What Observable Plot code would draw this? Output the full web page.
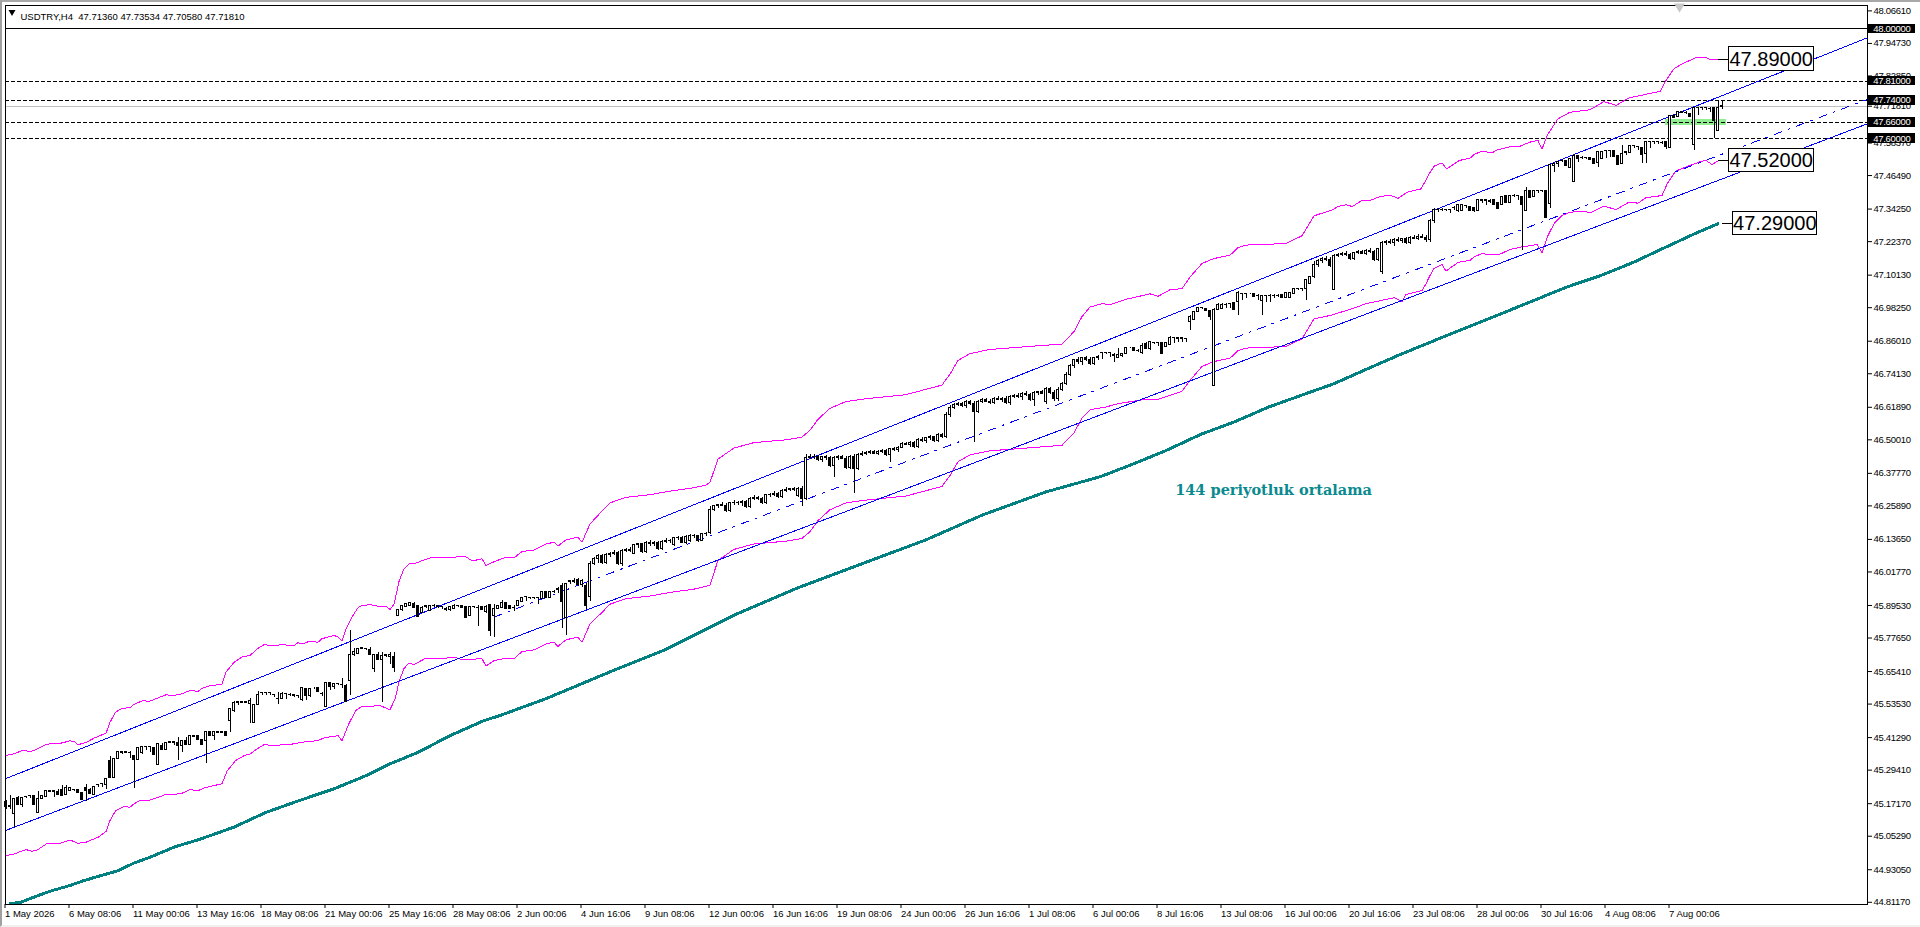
<!DOCTYPE html>
<html><head><meta charset="utf-8">
<script src="https://cdn.jsdelivr.net/npm/d3@7"></script>
<script src="https://cdn.jsdelivr.net/npm/@observablehq/plot@0.6"></script>
<style>
html,body{margin:0;padding:0;background:#fff;overflow:hidden}
svg{display:block}
#edge{position:fixed;left:0;top:0;width:1920px;height:927px;box-sizing:border-box;border-left:2px solid #a0a0a0;border-top:2px solid #a8a8a8;border-bottom:2px solid #f0f0f0;pointer-events:none}
[aria-label="y-axis tick label"]{letter-spacing:-.3px}
.tag text{letter-spacing:-.3px}
</style></head><body><div id="chart"></div><div id="edge"></div>
<script>
// Prices are in thousandths of a lira (45177 = 45.177)
const opens=[
45177,45162,45134,45193,45168,45197,45199,45198,45137,45189,
45195,45217,45217,45216,45222,45204,45219,45222,45222,45210,
45229,45223,45204,45241,45244,45241,45329,45266,45334,45359,
45359,45356,45344,45331,45357,45378,45378,45374,45313,45384,
45368,45396,45396,45392,45384,45400,45387,45417,45417,45404,
45400,45432,45417,45432,45432,45432,45473,45509,45542,45542,
45542,45536,45466,45533,45575,45575,45575,45570,45554,45554,
45573,45570,45567,45564,45551,45591,45563,45593,45593,45573,
45524,45612,45597,45609,45606,45603,45619,45713,45719,45739,
45737,45731,45662,45715,45698,45713,45707,45709,45856,45879,
45889,45893,45901,45892,45867,45892,45875,45895,45892,45889,
45883,45877,45883,45893,45895,45889,45856,45889,45887,45889,
45871,45898,45856,45883,45887,45905,45895,45887,45895,45907,
45926,45923,45923,45923,45920,45946,45923,45946,45950,45968,
45850,45980,45985,45990,45970,45968,45926,46047,46065,46075,
46050,46080,46085,46088,46045,46095,46098,46085,46115,46118,
46090,46125,46120,46122,46100,46128,46130,46115,46140,46142,
46125,46130,46150,46148,46130,46155,46160,46245,46258,46262,
46260,46240,46268,46270,46268,46272,46255,46285,46288,46285,
46270,46298,46300,46302,46290,46315,46318,46320,46295,46320,
46285,46435,46438,46436,46425,46436,46432,46405,46432,46436,
46430,46398,46438,46395,46445,46450,46452,46455,46450,46456,
46460,46445,46466,46462,46472,46485,46482,46490,46475,46500,
46496,46505,46510,46495,46518,46510,46590,46618,46628,46630,
46624,46638,46630,46600,46640,46644,46640,46636,46650,46646,
46650,46635,46658,46660,46656,46668,46664,46645,46670,46674,
46640,46685,46670,46650,46682,46705,46738,46768,46790,46785,
46798,46792,46778,46798,46817,46817,46817,46808,46800,46805,
46812,46836,46835,46824,46817,46851,46830,46854,46854,46853,
46839,46848,46873,46871,46871,46869,46930,46938,46966,46981,
46979,46972,46696,46975,46979,46994,46997,46999,47003,47033,
47033,47033,47033,47025,47007,47025,47027,47027,47027,47030,
47019,47019,47033,47052,47052,47052,47070,47094,47140,47152,
47160,47155,47048,47172,47176,47180,47175,47160,47182,47185,
47180,47190,47186,47155,47112,47218,47222,47218,47230,47226,
47232,47220,47238,47235,47242,47238,47228,47298,47340,47340,
47340,47340,47348,47337,47337,47353,47349,47347,47337,47374,
47374,47371,47374,47364,47356,47390,47365,47392,47390,47386,
47337,47408,47386,47408,47410,47410,47362,47499,47508,47518,
47518,47492,47441,47536,47530,47530,47530,47526,47510,47526,
47554,47554,47554,47536,47508,47550,47548,47572,47569,47565,
47542,47587,47587,47587,47584,47587,47566,47684,47678,47696,
47694,47690,47577,47712,47712,47712,47709,47712,47627,47714];
const highs=[
45183,45201,45189,45198,45195,45199,45200,45199,45217,45200,
45219,45219,45218,45222,45238,45238,45232,45224,45224,45212,
45241,45226,45236,45243,45246,45262,45344,45335,45362,45362,
45362,45363,45347,45375,45380,45380,45380,45376,45392,45390,
45395,45398,45398,45414,45402,45412,45417,45419,45419,45406,
45432,45434,45432,45434,45434,45434,45518,45545,45544,45544,
45544,45554,45533,45581,45577,45577,45577,45572,45579,45579,
45575,45574,45570,45568,45595,45593,45591,45595,45595,45577,
45612,45614,45609,45611,45628,45605,45804,45737,45737,45741,
45739,45741,45716,45725,45725,45717,45725,45725,45881,45897,
45901,45907,45905,45894,45890,45897,45897,45899,45896,45893,
45888,45892,45899,45897,45897,45891,45892,45891,45895,45891,
45895,45900,45899,45894,45913,45907,45897,45895,45910,45923,
45928,45926,45926,45926,45944,45948,45946,45950,45960,45975,
45975,45988,45992,45994,45990,45975,46055,46072,46080,46082,
46085,46090,46095,46092,46100,46105,46108,46118,46122,46122,
46130,46132,46128,46128,46132,46140,46138,46145,46148,46146,
46150,46155,46155,46152,46158,46162,46255,46262,46265,46270,
46268,46272,46278,46275,46278,46278,46290,46295,46292,46290,
46302,46305,46310,46308,46320,46325,46322,46325,46325,46328,
46445,46445,46445,46442,46440,46442,46438,46438,46442,46442,
46440,46442,46445,46450,46458,46458,46460,46460,46462,46465,
46465,46470,46472,46476,46490,46492,46495,46495,46505,46508,
46510,46515,46514,46522,46525,46600,46625,46632,46635,46638,
46642,46645,46640,46645,46650,46650,46648,46655,46658,46655,
46658,46662,46665,46668,46672,46675,46670,46675,46678,46680,
46690,46690,46680,46690,46710,46745,46775,46795,46800,46802,
46805,46800,46802,46808,46820,46820,46820,46815,46833,46816,
46838,46838,46837,46830,46851,46855,46860,46857,46857,46855,
46856,46878,46875,46873,46873,46871,46954,46968,46984,46984,
46981,46974,46978,46997,46997,46997,46999,47001,47040,47036,
47036,47035,47035,47030,47027,47027,47029,47031,47031,47032,
47038,47038,47054,47054,47054,47084,47096,47150,47160,47165,
47168,47165,47175,47180,47185,47186,47182,47185,47190,47192,
47195,47198,47192,47200,47225,47228,47230,47235,47238,47236,
47238,47242,47245,47248,47250,47246,47305,47345,47343,47343,
47342,47342,47352,47358,47358,47356,47351,47349,47374,47376,
47376,47376,47376,47366,47388,47392,47392,47394,47392,47388,
47420,47410,47410,47410,47412,47412,47504,47510,47516,47522,
47520,47526,47540,47538,47534,47532,47532,47528,47552,47552,
47556,47556,47556,47538,47575,47552,47574,47574,47571,47567,
47589,47589,47591,47591,47588,47589,47684,47686,47698,47700,
47698,47692,47714,47714,47714,47714,47713,47714,47739,47735];
const lows=[
45152,45152,45083,45165,45159,45190,45192,45166,45137,45187,
45193,45212,45195,45200,45198,45200,45215,45216,45208,45185,
45179,45205,45202,45229,45229,45225,45266,45266,45332,45353,
45355,45335,45228,45331,45353,45365,45359,45347,45313,45368,
45366,45390,45384,45329,45359,45387,45385,45412,45404,45387,
45317,45417,45402,45428,45428,45417,45432,45505,45530,45538,
45538,45466,45466,45533,45567,45567,45568,45558,45534,45552,
45552,45563,45560,45554,45545,45548,45561,45590,45579,45563,
45524,45585,45587,45603,45591,45542,45567,45710,45716,45733,
45731,45713,45652,45698,45542,45707,45680,45652,45854,45875,
45887,45891,45885,45853,45865,45885,45873,45888,45886,45882,
45875,45875,45880,45887,45885,45850,45854,45883,45819,45877,
45867,45782,45780,45881,45885,45883,45881,45875,45893,45905,
45911,45916,45916,45899,45918,45923,45921,45940,45940,45810,
45786,45972,45975,45965,45960,45879,45911,46040,46050,46045,
46045,46070,46078,46040,46038,46088,46090,46080,46105,46085,
46085,46112,46110,46095,46095,46120,46122,46110,46132,46120,
46118,46125,46140,46125,46128,46148,46155,46240,46250,46255,
46235,46235,46260,46262,46255,46250,46250,46278,46280,46265,
46265,46290,46292,46285,46285,46308,46310,46310,46290,46258,
46280,46428,46430,46420,46418,46425,46400,46362,46425,46428,
46392,46390,46305,46388,46438,46442,46445,46445,46442,46450,
46440,46418,46458,46455,46468,46478,46472,46470,46470,46492,
46488,46498,46490,46490,46505,46505,46580,46610,46620,46618,
46615,46625,46490,46595,46632,46636,46630,46630,46642,46635,
46630,46625,46650,46652,46645,46660,46640,46620,46662,46665,
46630,46665,46640,46640,46675,46698,46730,46760,46775,46770,
46785,46770,46770,46790,46792,46812,46800,46784,46798,46802,
46810,46832,46823,46818,46812,46833,46828,46848,46839,46812,
46837,46846,46851,46857,46857,46854,46899,46936,46964,46975,
46970,46936,46696,46973,46977,46979,46979,46975,46954,47009,
47015,47030,47021,47009,46954,47003,47003,47015,47019,47019,
47015,47017,47031,47046,47043,47009,47068,47090,47130,47145,
47150,47130,47048,47165,47168,47170,47155,47155,47175,47175,
47172,47180,47150,47150,47105,47210,47212,47205,47220,47218,
47215,47215,47230,47228,47235,47222,47222,47290,47330,47332,
47332,47328,47338,47330,47332,47345,47337,47330,47332,47362,
47356,47362,47356,47343,47354,47365,47363,47386,47374,47191,
47335,47384,47384,47400,47402,47311,47343,47477,47493,47512,
47498,47490,47441,47511,47522,47522,47520,47508,47496,47524,
47526,47530,47532,47502,47506,47538,47546,47565,47556,47508,
47508,47563,47580,47580,47577,47559,47566,47676,47676,47690,
47688,47678,47556,47684,47704,47704,47696,47599,47625,47706];
const closes=[
45159,45161,45189,45168,45194,45196,45198,45166,45188,45198,
45217,45216,45216,45204,45201,45228,45228,45221,45210,45185,
45217,45207,45234,45240,45243,45262,45266,45335,45362,45358,
45358,45355,45331,45375,45378,45377,45377,45350,45390,45368,
45393,45395,45395,45384,45402,45387,45417,45416,45404,45387,
45432,45417,45432,45431,45431,45417,45518,45538,45541,45541,
45541,45548,45533,45569,45574,45574,45574,45569,45553,45573,
45572,45569,45566,45563,45595,45564,45591,45593,45579,45572,
45612,45597,45609,45608,45605,45542,45715,45725,45735,45738,
45736,45713,45716,45698,45710,45712,45716,45668,45879,45895,
45899,45905,45887,45853,45887,45891,45895,45894,45891,45888,
45877,45889,45895,45892,45887,45850,45889,45888,45886,45877,
45889,45802,45883,45892,45905,45883,45881,45886,45910,45923,
45925,45922,45922,45922,45944,45923,45946,45945,45955,45907,
45972,45985,45982,45970,45985,45892,46047,46065,46075,46050,
46080,46085,46088,46045,46095,46098,46095,46115,46118,46090,
46125,46120,46122,46100,46128,46130,46132,46140,46142,46125,
46145,46150,46148,46130,46155,46158,46245,46258,46262,46260,
46240,46268,46270,46268,46272,46255,46285,46288,46285,46270,
46298,46300,46302,46290,46315,46318,46320,46318,46320,46285,
46435,46438,46436,46425,46436,46432,46405,46432,46436,46430,
46398,46438,46395,46445,46450,46452,46455,46450,46456,46460,
46445,46466,46462,46472,46485,46482,46490,46475,46500,46496,
46505,46510,46495,46518,46512,46590,46618,46628,46630,46624,
46638,46630,46600,46640,46644,46640,46636,46650,46646,46650,
46635,46658,46660,46656,46668,46664,46645,46670,46674,46668,
46685,46670,46650,46682,46705,46738,46768,46790,46785,46798,
46792,46778,46798,46802,46816,46816,46816,46807,46808,46814,
46835,46836,46823,46823,46841,46833,46857,46853,46853,46812,
46853,46873,46872,46870,46870,46868,46948,46966,46982,46980,
46970,46948,46975,46991,46994,46993,46996,46975,47036,47032,
47032,47033,47021,47024,47025,47024,47026,47026,47026,47019,
47036,47036,47052,47051,47051,47082,47094,47140,47152,47160,
47155,47135,47172,47176,47180,47175,47160,47182,47185,47180,
47190,47186,47155,47195,47218,47222,47218,47230,47226,47232,
47220,47238,47235,47242,47238,47228,47298,47338,47339,47339,
47339,47339,47347,47356,47356,47352,47337,47337,47374,47373,
47373,47370,47356,47343,47386,47365,47390,47391,47389,47356,
47408,47384,47408,47407,47409,47311,47502,47508,47514,47517,
47498,47524,47538,47526,47529,47529,47520,47508,47550,47550,
47553,47553,47532,47502,47544,47549,47572,47571,47568,47541,
47587,47586,47586,47586,47583,47569,47681,47676,47696,47695,
47693,47678,47712,47711,47711,47711,47708,47664,47712,47718];

const upperBars=[0,2,4.5,6,7,10,11,13,16,17,18,20,22,25,26,27.4,29,31,32,34,36,38,40,42,44,46,48,49,51,54,55,57,59,61,63,64.5,67,69,72,73,74,76,78,79,82,83,84,85,86,87,88,89,91,93,95,96,97,97.4,98.3,99.5,100.7,102,103.7,105.4,107,110.3,112.9,115,116.4,118,119,120,122,124.5,127,129,132,135,137,138,140,143,144,146,149,151,155,161,167,172,175,176,178,182,187,195,199,201,203,206,210,215,225,234,236,238,241,246,255,264,267,269,271,274,276,280,286,288,291,294,296,299,302,306,308,310,317,320,324,327,331.7,333,335,336.6,339,341.6,343,345.8,348,350.3,353.7,354.7,355.8,357,359,360.2,363.3,366,367,369,371.6,372.8,377,378,381,383,384,385.5,388,391,396,399.5,402.5,405.8,408.6,413.6,415,417,418.7,422.4,425,426.3,428];
const upperVals=[45348,45354,45368,45361,45366,45388,45390,45390,45401,45399,45387,45395,45411,45429,45469,45506,45520,45522,45534,45547,45546,45558,45569,45567,45573,45585,45582,45593,45603,45607,45652,45688,45707,45713,45739,45752,45749,45752,45749,45760,45755,45765,45761,45774,45786,45780,45765,45810,45840,45865,45887,45895,45898,45893,45893,45881,45900,45926,45986,46029,46047,46047,46057,46066,46072,46069,46073,46073,46059,46062,46066,46041,46055,46069,46069,46092,46098,46120,46126,46112,46135,46145,46126,46193,46240,46270,46290,46300,46315,46325,46335,46345,46430,46470,46490,46500,46510,46535,46575,46615,46640,46650,46665,46700,46740,46790,46815,46830,46840,46850,46895,46950,46985,46997,46994,47013,47033,47024,47048,47052,47094,47144,47162,47174,47202,47211,47215,47217,47245,47318,47340,47352,47358,47352,47374,47376,47386,47394,47382,47404,47416,47441,47471,47499,47511,47489,47520,47528,47542,47554,47548,47559,47573,47569,47587,47593,47562,47617,47672,47696,47705,47735,47721,47749,47757,47773,47812,47855,47870,47895,47895,47887,47890];

const lowerBars=[0,2,5,6.6,8,10.3,13.7,16,18,20,23,25,26,27.4,29.5,31,32,33.7,36,38.7,40,42,44,46,48,49.5,52,54,55.3,57.4,59.5,61,63,64.5,67,72,74,78,79.5,83,84,85.7,87.4,89,93.7,96,97.4,98.3,99.5,100.7,102,105,110,112,114,119,120,122,125,127,129,132,135,137,138,140,143,144,146,149,151,155,161,167,172,175,176,178,182,187,195,199,201,203,206,210,215,225,234,236,238,241,246,255,264,267,269,271,275,278,284,288,294,296,299,302,306,308,310,317,320,324,327,331,336,340,347,349,350,354,355,356,357,359,360,363,366,367,369,371.6,373.7,375.8,378.7,382.8,384,385.3,387,389,391,394.5,396,399.5,402.5,405.8,408,410,414,415.3,417.4,421,423.7,425,426.5,428];
const lowerVals=[44982,44988,45004,44998,45004,45027,45028,45039,45027,45031,45049,45070,45110,45146,45161,45159,45171,45185,45185,45198,45207,45205,45210,45223,45219,45229,45238,45244,45292,45329,45347,45353,45374,45387,45384,45390,45396,45402,45412,45420,45402,45463,45511,45527,45529,45514,45560,45620,45665,45685,45680,45703,45703,45707,45697,45701,45674,45694,45703,45701,45727,45733,45755,45761,45746,45770,45780,45761,45828,45870,45900,45920,45930,45945,45955,45965,45970,46060,46100,46120,46130,46140,46165,46205,46245,46270,46280,46295,46330,46370,46420,46445,46460,46470,46480,46525,46580,46610,46620,46632,46646,46648,46677,46717,46768,46786,46798,46826,46835,46839,46841,46869,46942,46954,46976,46997,47019,47005,47031,47045,47070,47100,47126,47140,47116,47148,47155,47168,47180,47175,47179,47194,47204,47213,47183,47240,47289,47319,47331,47335,47328,47353,47341,47368,47364,47384,47392,47435,47481,47502,47516,47520,47505,47518];

const averageBars=[1,3.7,8.7,11,16,19.5,23.7,28,32,36,42,48.7,57,65,73.7,82,90,96,103,111,119.5,123,135,152,165,182,198,230,244,260,273.7,282,290,298.7,307,315.7,323.7,332,340,348,360,373.7,382,390,398.7,407,415,423,428];
const averageVals=[44806,44812,44840,44852,44873,44891,44909,44927,44955,44976,45013,45043,45086,45140,45185,45226,45274,45317,45359,45420,45475,45491,45555,45659,45735,45860,45960,46135,46225,46310,46366,46413,46461,46520,46565,46620,46662,46705,46757,46808,46880,46960,47009,47057,47100,47149,47204,47258,47289];

const channelBars=[-0.25,465.375];
const channelTop=[45262,47968];
const channelBottom=[45073,47654];
const midBars=[122,465.375];
const midVals=[45853,47743];

const dashedLevels=[47.81,47.74,47.66,47.60];
const solidLevel=[48.0];
const bidLevel=[47.7181];
const tagLevels=[48.0,47.81,47.74,47.66,47.60];
const priceTicks=[48.0661,47.9473,47.8285,47.7181,47.5837,47.4649,47.3425,47.2237,47.1013,46.9825,46.8601,46.7413,46.6189,46.5001,46.3777,46.2589,46.1365,46.0177,45.8953,45.7765,45.6541,45.5353,45.4129,45.2941,45.1717,45.0529,44.9305,44.8117];
const timeLabels=["1 May 2026","6 May 08:06","11 May 00:06","13 May 16:06","18 May 08:06","21 May 00:06","25 May 16:06","28 May 08:06","2 Jun 00:06","4 Jun 16:06","9 Jun 08:06","12 Jun 00:06","16 Jun 16:06","19 Jun 08:06","24 Jun 00:06","26 Jun 16:06","1 Jul 08:06","6 Jul 00:06","8 Jul 16:06","13 Jul 08:06","16 Jul 00:06","20 Jul 16:06","23 Jul 08:06","28 Jul 00:06","30 Jul 16:06","4 Aug 08:06","7 Aug 00:06"];
const barsPerLabel=16;
const headerSymbol="USDTRY,H4";
const headerValues=["47.71360","47.73534","47.70580","47.71810"];
const boxValues=[47.89,47.52,47.29];
const boxStarts=[430.7,430.7,431.7];
const boxEnds=[451.9,451.9,452.7];
const lineEnds=[428,428,429];
const annotation="144 periyotluk ortalama";
const zoneBars=[414.9,430];
const zonePrices=[47.648,47.668];

const xy=(bs,vs)=>bs.map((b,k)=>({b,v:vs[k]/1000}));
const candles=opens.map((o,i)=>({i,o:o/1000,h:highs[i]/1000,l:lows[i]/1000,c:closes[i]/1000}));
const tickBars=timeLabels.map((_,k)=>k*barsPerLabel);
const boxes=boxValues.map((v,k)=>({v,s:boxStarts[k],e:boxEnds[k],l:lineEnds[k]}));
const crisp={shapeRendering:"crispEdges"};

const plot=Plot.plot({
  width:1920,height:927,marginTop:4.5,marginBottom:23,marginLeft:4.5,marginRight:53,
  style:{background:"#fff",fontFamily:"'Liberation Sans',Arial,sans-serif",fontSize:"9.5px",color:"#000",overflow:"visible"},
  x:{domain:[-0.25,465.375]},
  y:{domain:[44.8036,48.0876]},
  marks:[
    Plot.rect([0],{x1:zoneBars[0],x2:zoneBars[1],y1:zonePrices[0],y2:zonePrices[1],fill:"#90ee90",...crisp}),
    Plot.ruleY(bidLevel,{stroke:"#c0c0c0",strokeWidth:1,...crisp}),
    Plot.ruleY(solidLevel,{stroke:"#000",strokeWidth:1,...crisp}),
    Plot.ruleY(dashedLevels,{stroke:"#000",strokeWidth:1,strokeDasharray:"4 2",...crisp}),
    Plot.line(xy(averageBars,averageVals),{x:"b",y:"v",stroke:"#008080",strokeWidth:3,...crisp}),
    Plot.line(xy(upperBars,upperVals),{x:"b",y:"v",stroke:"#ff00ff",strokeWidth:1,...crisp}),
    Plot.line(xy(lowerBars,lowerVals),{x:"b",y:"v",stroke:"#ff00ff",strokeWidth:1,...crisp}),
    Plot.line(xy(channelBars,channelTop),{x:"b",y:"v",stroke:"#0000ff",strokeWidth:1,...crisp}),
    Plot.line(xy(channelBars,channelBottom),{x:"b",y:"v",stroke:"#0000ff",strokeWidth:1,...crisp}),
    Plot.line(xy(midBars,midVals),{x:"b",y:"v",stroke:"#0000ff",strokeWidth:1,strokeDasharray:"8 7 2 7",...crisp}),
    Plot.ruleX(candles,{x:"i",y1:"l",y2:"h",stroke:"#000",strokeWidth:1,...crisp}),
    Plot.rect(candles,{x1:d=>d.i-0.25,x2:d=>d.i+0.25,y1:"o",y2:"c",fill:d=>d.c>=d.o?"#fff":"#000",stroke:"#000",strokeWidth:1,...crisp}),
    Plot.frame({stroke:"#000",strokeWidth:1,...crisp}),
    Plot.axisX(tickBars,{anchor:"bottom",tickSize:4,tickPadding:2,label:null,textAnchor:"start",dx:-1,tickFormat:d=>timeLabels[d/barsPerLabel],fontSize:9.5}),
    Plot.axisY(priceTicks,{anchor:"right",tickSize:4,tickPadding:2,label:null,tickFormat:d=>d.toFixed(5),fontSize:9.5}),
    Plot.rect(tagLevels,{x1:465.6,x2:477.4,y1:d=>d-0.018,y2:d=>d+0.018,fill:"#000",...crisp}),
    Plot.text(tagLevels,{x:466.8,y:d=>d,text:d=>d.toFixed(5),fill:"#fff",textAnchor:"start",fontSize:9.5,className:"tag"}),
    Plot.ruleY(boxes,{y:"v",x1:"l",x2:"s",stroke:"#000",strokeWidth:1,...crisp}),
    Plot.rect(boxes,{x1:"s",x2:"e",y1:d=>d.v-0.0427,y2:d=>d.v+0.0427,fill:"#fff",stroke:"#000",strokeWidth:1,...crisp}),
    Plot.text(boxes,{x:d=>(d.s+d.e)/2,y:"v",text:d=>d.v.toFixed(5),fill:"#000",fontSize:20}),
    Plot.text([annotation],{x:316.9,y:46.315,text:d=>d,fill:"#0a8a8f",fontFamily:"'DejaVu Serif',serif",fontWeight:"bold",fontSize:14.5}),
    Plot.text([headerSymbol+"  "+headerValues.join(" ")],{frameAnchor:"top-left",dx:15.5,dy:8,text:d=>d,fill:"#000",textAnchor:"start",fontSize:9.5}),
    Plot.dot([0],{frameAnchor:"top-left",dx:7,dy:7,symbol:"triangle",r:2.6,rotate:180,fill:"#000"}),
    Plot.dot([0],{frameAnchor:"top-left",dx:1674.5,dy:1.5,symbol:"triangle",r:4,rotate:180,fill:"#c8c8c8"})
  ]
});
document.getElementById("chart").append(plot);
</script></body></html>
